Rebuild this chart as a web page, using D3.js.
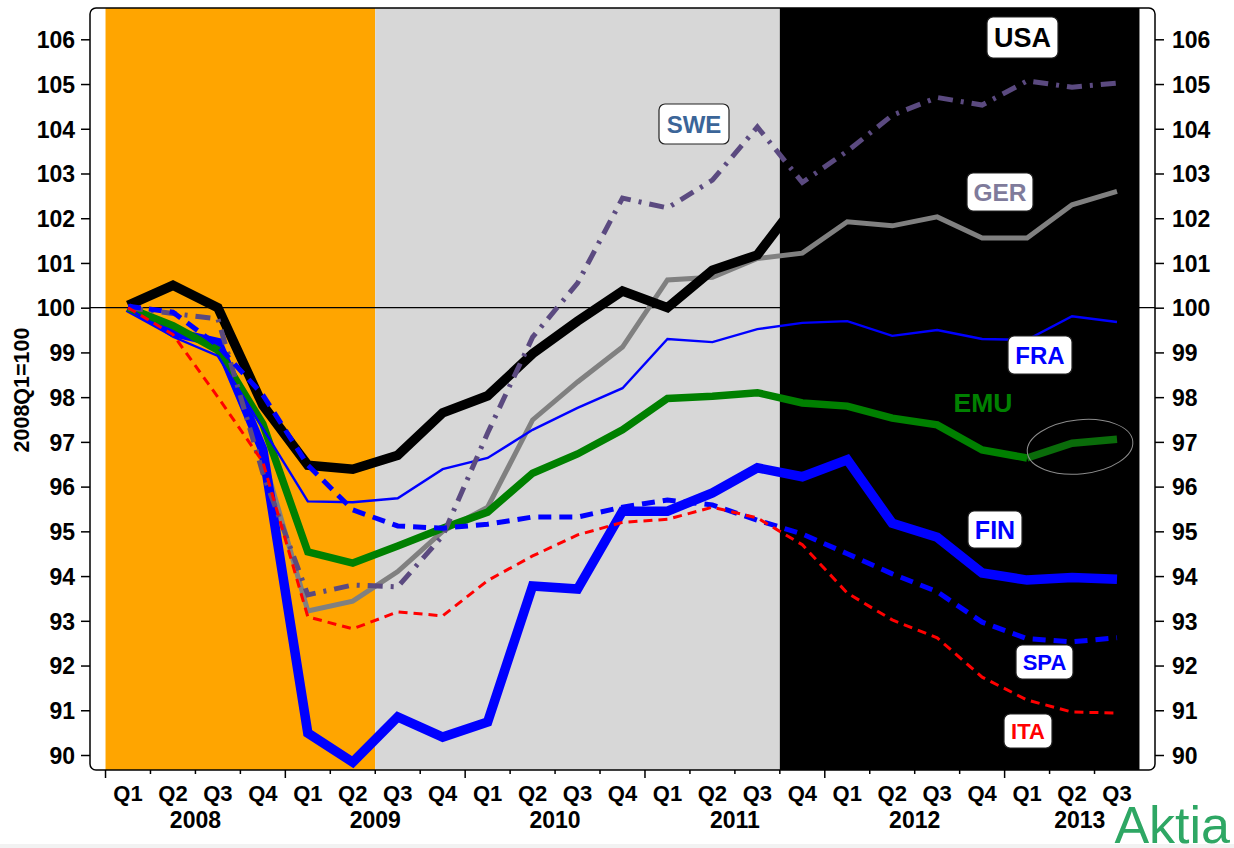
<!DOCTYPE html>
<html>
<head>
<meta charset="utf-8">
<script src="https://cdn.jsdelivr.net/npm/d3@7"></script>
<style>
  html, body { margin: 0; padding: 0; background: #fff; }
  svg { display: block; font-family: "Liberation Sans", Arial, Helvetica, sans-serif; }
</style>
</head>
<body>
<svg id="chart" width="1234" height="848"></svg>
<script>
// ---- Data: real GDP index, 2008Q1 = 100 ----
const quarters = ["Q1","Q2","Q3","Q4","Q1","Q2","Q3","Q4","Q1","Q2","Q3","Q4",
                  "Q1","Q2","Q3","Q4","Q1","Q2","Q3","Q4","Q1","Q2","Q3"];
const years = ["2008","2009","2010","2011","2012","2013"];
const yTicks = [90,91,92,93,94,95,96,97,98,99,100,101,102,103,104,105,106];

const usa = [100.05,100.5,100.0,97.82,96.48,96.39,96.7,97.65,98.03,98.97,99.7,100.37,
             100.0,100.84,101.18,102.5];
const ger = [100,99.6,99.1,96.7,93.22,93.44,94.1,95.0,95.54,97.49,98.34,99.12,
             100.62,100.68,101.1,101.22,101.92,101.83,102.03,101.56,101.56,102.3,102.6];
const swe = [100,99.87,99.75,96.3,93.58,93.8,93.76,94.9,97.2,99.34,100.55,102.45,
             102.23,102.85,104.04,102.8,103.5,104.3,104.7,104.53,105.07,104.93,105.02];
const fin = [100,99.45,99.22,96.82,90.49,89.84,90.85,90.4,90.74,93.78,93.71,95.45,
             95.45,95.86,96.42,96.22,96.6,95.18,94.87,94.07,93.91,93.97,93.93];
const emu = [100,99.6,99.05,97.4,94.54,94.29,94.67,95.07,95.43,96.3,96.73,97.27,
             97.97,98.02,98.1,97.87,97.8,97.53,97.38,96.82,96.64,96.97,97.06];
const fra = [100,99.35,98.92,97.3,95.67,95.65,95.74,96.39,96.64,97.27,97.76,98.2,
             99.3,99.23,99.52,99.66,99.7,99.37,99.5,99.3,99.28,99.81,99.68];
const spa = [100.03,99.9,99.15,98.05,96.48,95.48,95.12,95.07,95.16,95.32,95.32,95.54,
             95.7,95.59,95.25,94.94,94.5,94.05,93.65,92.97,92.6,92.53,92.62];
const ita = [100,99.4,98.0,96.55,93.09,92.82,93.2,93.11,93.9,94.45,94.92,95.2,
             95.27,95.54,95.3,94.7,93.62,93.02,92.62,91.74,91.23,90.96,90.94];

// Phases of the cycle, as [first quarter index, end quarter index)
const phaseStart = [0, 6, 15];
const phaseEnd   = [6, 15, 23];
// EMU forecast segment starts at this quarter index
const emuForecastFrom = 20;

// ---- Layout ----
const svg = d3.select("#chart");
const frame = { left: 90, right: 1155, top: 8, bottom: 770 };
const x = d3.scaleLinear().domain([0, quarters.length - 1]).range([128, 1117]);
const y = d3.scaleLinear().domain([90, 106]).range([755, 39.3]);
const step = x(1) - x(0);

// white background
svg.append("rect").attr("width", 1234).attr("height", 848).attr("fill", "#fff");
svg.append("rect").attr("x", 0).attr("y", 844).attr("width", 1234).attr("height", 4).attr("fill", "#f2f2f2");

// phase bands
const bandColors = ["#FFA500", "#D7D7D7", "#000000"];
svg.append("g").selectAll("rect").data(phaseStart).join("rect")
  .attr("x", (d) => x(d) - step / 2)
  .attr("y", frame.top)
  .attr("width", (d, i) => (phaseEnd[i] - d) * step)
  .attr("height", frame.bottom - frame.top)
  .attr("fill", (d, i) => bandColors[i]);

// reference line at 100
svg.append("line")
  .attr("x1", frame.left).attr("x2", frame.right)
  .attr("y1", y(100)).attr("y2", y(100))
  .attr("stroke", "#000").attr("stroke-width", 1.3);

// ---- Series ----
const line = d3.line().x((d, i) => x(i)).y((d) => y(d));
const series = [
  { values: ger, color: "#808080", width: 5 },
  { values: usa, color: "#000000", width: 9.5 },
  { values: fin, color: "#0000FF", width: 9.5 },
  { values: emu.slice(0, emuForecastFrom + 1), color: "#008000", width: 7.5 },
  { values: fra, color: "#0000FF", width: 2.4 },
  { values: swe, color: "#5B4A80", width: 5, dash: "15,8,3,8" },
  { values: spa, color: "#0000FF", width: 5, dash: "13,8" },
  { values: ita, color: "#FF0000", width: 3, dash: "9,6" }
];
const gLines = svg.append("g").attr("fill", "none");
series.forEach((s) => {
  gLines.append("path")
    .datum(s.values)
    .attr("d", line)
    .attr("stroke", s.color)
    .attr("stroke-width", s.width)
    .attr("stroke-dasharray", s.dash || null);
});
// EMU forecast tail
const emuTail = emu.map((v, i) => [i, v]).filter((d) => d[0] >= emuForecastFrom);
gLines.append("path")
  .datum(emuTail)
  .attr("d", d3.line().x((d) => x(d[0])).y((d) => y(d[1])))
  .attr("stroke", "#0a6c0a").attr("stroke-width", 7.5);

// highlight ellipse around the EMU forecast
const ecx = (x(emuForecastFrom) + x(quarters.length - 1)) / 2 + 8;
const ecy = y(d3.mean(emuTail, (d) => d[1]));
svg.append("ellipse")
  .attr("cx", ecx).attr("cy", ecy)
  .attr("rx", 53).attr("ry", 27)
  .attr("transform", `rotate(-6,${ecx},${ecy})`)
  .attr("fill", "none").attr("stroke", "#8c8c8c").attr("stroke-width", 1);

// ---- Frame and axes ----
svg.append("rect")
  .attr("x", frame.left).attr("y", frame.top)
  .attr("width", frame.right - frame.left).attr("height", frame.bottom - frame.top)
  .attr("rx", 6).attr("fill", "none").attr("stroke", "#000").attr("stroke-width", 1.5);

const yAxisL = svg.append("g").attr("transform", `translate(${frame.left},0)`)
  .call(d3.axisLeft(y).tickValues(yTicks).tickSize(9).tickPadding(6).tickFormat(d3.format("d")));
const yAxisR = svg.append("g").attr("transform", `translate(${frame.right},0)`)
  .call(d3.axisRight(y).tickValues(yTicks).tickSize(9).tickPadding(8).tickFormat(d3.format("d")));
[yAxisL, yAxisR].forEach((g) => {
  g.select(".domain").remove();
  g.selectAll(".tick line").attr("stroke", "#000").attr("stroke-width", 1.5);
  g.selectAll(".tick text")
    .attr("font-family", "'Liberation Sans', Arial, sans-serif")
    .attr("font-size", 23).attr("font-weight", "bold").attr("fill", "#000")
    .attr("dy", "0.36em");
});

// x axis: boundary ticks between quarters, longer ticks at year starts
const boundaries = d3.range(quarters.length).map((i) => i - 0.5);
svg.append("g").selectAll("line").data(boundaries).join("line")
  .attr("x1", (d) => x(d)).attr("x2", (d) => x(d))
  .attr("y1", frame.bottom)
  .attr("y2", (d, i) => frame.bottom + (i % 4 === 0 ? 8 : 4))
  .attr("stroke", "#000").attr("stroke-width", 1.5);

svg.append("g").selectAll("text").data(quarters).join("text")
  .attr("x", (d, i) => x(i)).attr("y", 801)
  .attr("text-anchor", "middle")
  .attr("font-size", 22).attr("font-weight", "bold")
  .text((d) => d);

svg.append("g").selectAll("text").data(years).join("text")
  .attr("x", (d, i) => {
    const a = x(i * 4 - 0.5);
    const b = Math.min(x(i * 4 + 3.5), frame.right);
    return (a + b) / 2;
  })
  .attr("y", 828)
  .attr("text-anchor", "middle")
  .attr("font-size", 23).attr("font-weight", "bold")
  .text((d) => d);

// y-axis title
svg.append("text")
  .attr("transform", "translate(29,390) rotate(-90)")
  .attr("text-anchor", "middle")
  .attr("font-size", 21.5).attr("font-weight", "bold")
  .text("2008Q1=100");

// ---- Country labels ----
const labels = [
  { t: "USA", cx: 1022.5, cy: 37.5, w: 71, h: 41, size: 27, color: "#000000" },
  { t: "SWE", cx: 694, cy: 124, w: 70, h: 40, size: 24, color: "#3B6598" },
  { t: "GER", cx: 1000, cy: 192, w: 66, h: 38, size: 24.5, color: "#7F7B9B" },
  { t: "FRA", cx: 1040, cy: 355, w: 64, h: 38, size: 24, color: "#0000FF" },
  { t: "EMU", cx: 983, cy: 402, size: 26.5, color: "#008000" },
  { t: "FIN", cx: 995, cy: 529.5, w: 54, h: 37, size: 25, color: "#0000FF" },
  { t: "SPA", cx: 1044.5, cy: 662, w: 57, h: 34, size: 22, color: "#0000FF" },
  { t: "ITA", cx: 1028, cy: 731, w: 48, h: 34, size: 22, color: "#FF0000" }
];
const gLab = svg.append("g");
labels.forEach((l) => {
  if (l.w) {
    gLab.append("rect")
      .attr("x", l.cx - l.w / 2).attr("y", l.cy - l.h / 2)
      .attr("width", l.w).attr("height", l.h).attr("rx", 6)
      .attr("fill", "#fff").attr("stroke", "#222").attr("stroke-width", 1.2);
  }
  gLab.append("text")
    .attr("x", l.cx).attr("y", l.cy + l.size * 0.36)
    .attr("text-anchor", "middle")
    .attr("font-size", l.size).attr("font-weight", "bold")
    .attr("fill", l.color)
    .text(l.t);
});

// logo
svg.append("text")
  .attr("x", 1230).attr("y", 843)
  .attr("text-anchor", "end")
  .attr("font-size", 52)
  .attr("fill", "#2EA764")
  .text("Aktia");
</script>
</body>
</html>
